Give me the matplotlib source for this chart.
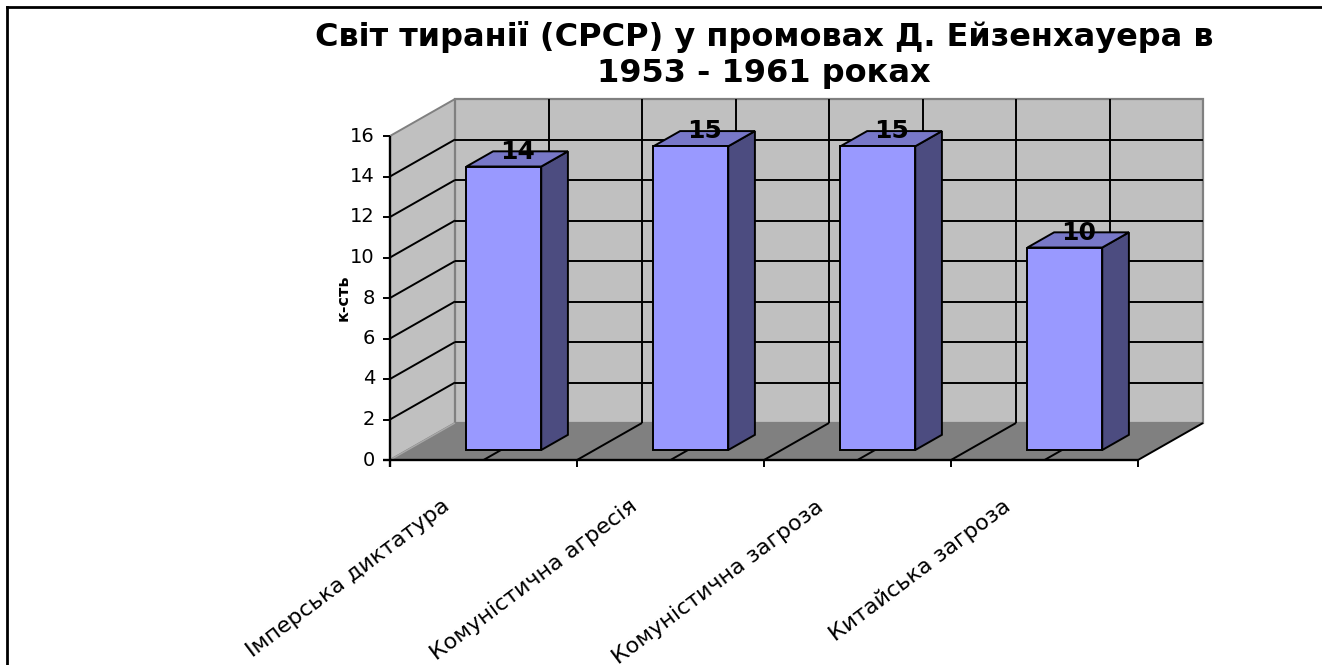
import matplotlib
matplotlib.use("Agg")
import matplotlib.pyplot as plt
from matplotlib.patches import Polygon
from matplotlib.lines import Line2D

plt.rcParams["font.family"] = ["DejaVu Sans"]

TITLE = "Світ тиранії (СРСР) у промовах Д. Ейзенхауера в\n1953 - 1961 роках"
Y_LABEL = "к-сть"
categories = ["Імперська диктатура", "Комуністична агресія",
              "Комуністична загроза", "Китайська загроза"]
values = [14, 15, 15, 10]
y_ticks = [0, 2, 4, 6, 8, 10, 12, 14, 16]

# colours of the excel-style 3d chart
WALL = "#c0c0c0"
FLOOR = "#808080"
BAR_FRONT = "#9999ff"
BAR_TOP = "#7878c8"
BAR_SIDE = "#4c4c80"

W, H = 1322, 665
# pixel geometry of the front plane
X0_PX, Y0_PX = 390, 460
CAT_PX = 187.0        # pixels per category
VAL_PX = 20.25        # pixels per value unit
DX = 65 / CAT_PX      # depth offset in category units
DY = 37 / VAL_PX      # depth offset in value units
Z0, Z1 = 0.27, 0.68   # bar depth (fraction of the floor depth)
HALF_W = 0.2          # half bar width in category units
GRID_LW = 1.4


def poly(ax, pts, fc, ec="black", lw=1.4, z=1):
    ax.add_patch(Polygon(pts, closed=True, facecolor=fc, edgecolor=ec,
                         linewidth=lw, zorder=z, joinstyle="miter"))


def line(ax, xs, ys, color="black", lw=GRID_LW, z=2):
    ax.plot(xs, ys, color=color, lw=lw, zorder=z, solid_capstyle="butt")


def main():
    fig = plt.figure(figsize=(W / 100, H / 100), dpi=100)
    ax = fig.add_axes([0, 0, 1, 1])
    ax.set_xlim(-X0_PX / CAT_PX, (W - X0_PX) / CAT_PX)
    ax.set_ylim(-(H - Y0_PX) / VAL_PX, Y0_PX / VAL_PX)
    ax.axis("off")

    n = len(categories)
    top = y_ticks[-1]

    # walls and floor
    poly(ax, [(0, 0), (0, top), (DX, top + DY), (DX, DY)], WALL, "#808080", 1.4, 1)
    poly(ax, [(DX, DY), (n + DX, DY), (n + DX, top + DY), (DX, top + DY)],
         WALL, "#808080", 1.6, 1)
    poly(ax, [(0, 0), (n, 0), (n + DX, DY), (DX, DY)], FLOOR, "none", 0, 1)
    line(ax, [0, DX], [0, DY], "#a8a8a8", 1.0, 2)
    line(ax, [n, n + DX], [0, DY], "black", GRID_LW, 2)

    # value gridlines on left and back wall
    for v in y_ticks[1:-1]:
        line(ax, [0, DX], [v, v + DY])
        line(ax, [DX, n + DX], [v + DY, v + DY])

    # category gridlines (half-category steps) on back wall and floor
    for k in range(1, 2 * n):
        x = k / 2
        line(ax, [x + DX, x + DX], [DY, top + DY])
        line(ax, [x, x + DX], [0, DY])

    # bars
    for i, v in enumerate(values):
        xl = i + 0.515 - HALF_W
        xr = i + 0.515 + HALF_W
        a0x, a0y = Z0 * DX, Z0 * DY
        a1x, a1y = Z1 * DX, Z1 * DY
        poly(ax, [(xr + a0x, a0y), (xr + a1x, a1y), (xr + a1x, v + a1y),
                  (xr + a0x, v + a0y)], BAR_SIDE, z=5)
        poly(ax, [(xl + a0x, v + a0y), (xr + a0x, v + a0y),
                  (xr + a1x, v + a1y), (xl + a1x, v + a1y)], BAR_TOP, z=5)
        poly(ax, [(xl + a0x, a0y), (xr + a0x, a0y), (xr + a0x, v + a0y),
                  (xl + a0x, v + a0y)], BAR_FRONT, z=6)
        ax.text(i + 0.515 + (Z0 + Z1) / 2 * DX, v + a0y + 8 / VAL_PX, str(v),
                ha="center", va="baseline", fontsize=18, fontweight="bold",
                zorder=8)

    # axes lines and ticks
    tick_x = 7 / CAT_PX
    tick_y = 7 / VAL_PX
    line(ax, [0, 0], [-tick_y, top], "black", 1.7, 7)
    line(ax, [-tick_x, n], [0, 0], "black", 1.7, 7)
    for v in y_ticks:
        line(ax, [-tick_x, 0], [v, v], "black", 1.4, 7)
        ax.text(-15 / CAT_PX, v, str(v), ha="right", va="center",
                fontsize=14)
    for k in range(n + 1):
        line(ax, [k, k], [-tick_y, 0], "black", 1.4, 7)

    for i, cat in enumerate(categories):
        ax.text(i + 0.5 - 30 / CAT_PX, -36 / VAL_PX, cat, ha="right",
                va="top", rotation=37, fontsize=16)

    ax.text(-47 / CAT_PX, 8, Y_LABEL, rotation=90, ha="center",
            va="center", fontsize=11.5, fontweight="bold")

    fig.text(764 / W, 1 - 21 / H, TITLE, ha="center", va="top",
             fontsize=23, fontweight="bold", linespacing=1.2)

    # chart border (top and left only visible)
    fig.add_artist(Line2D([7 / W, 1], [1 - 7 / H, 1 - 7 / H],
                          transform=fig.transFigure, color="black", lw=2))
    fig.add_artist(Line2D([7 / W, 7 / W], [0, 1 - 7 / H],
                          transform=fig.transFigure, color="black", lw=2))

    fig.savefig("out.png", dpi=100)


if __name__ == "__main__":
    main()
